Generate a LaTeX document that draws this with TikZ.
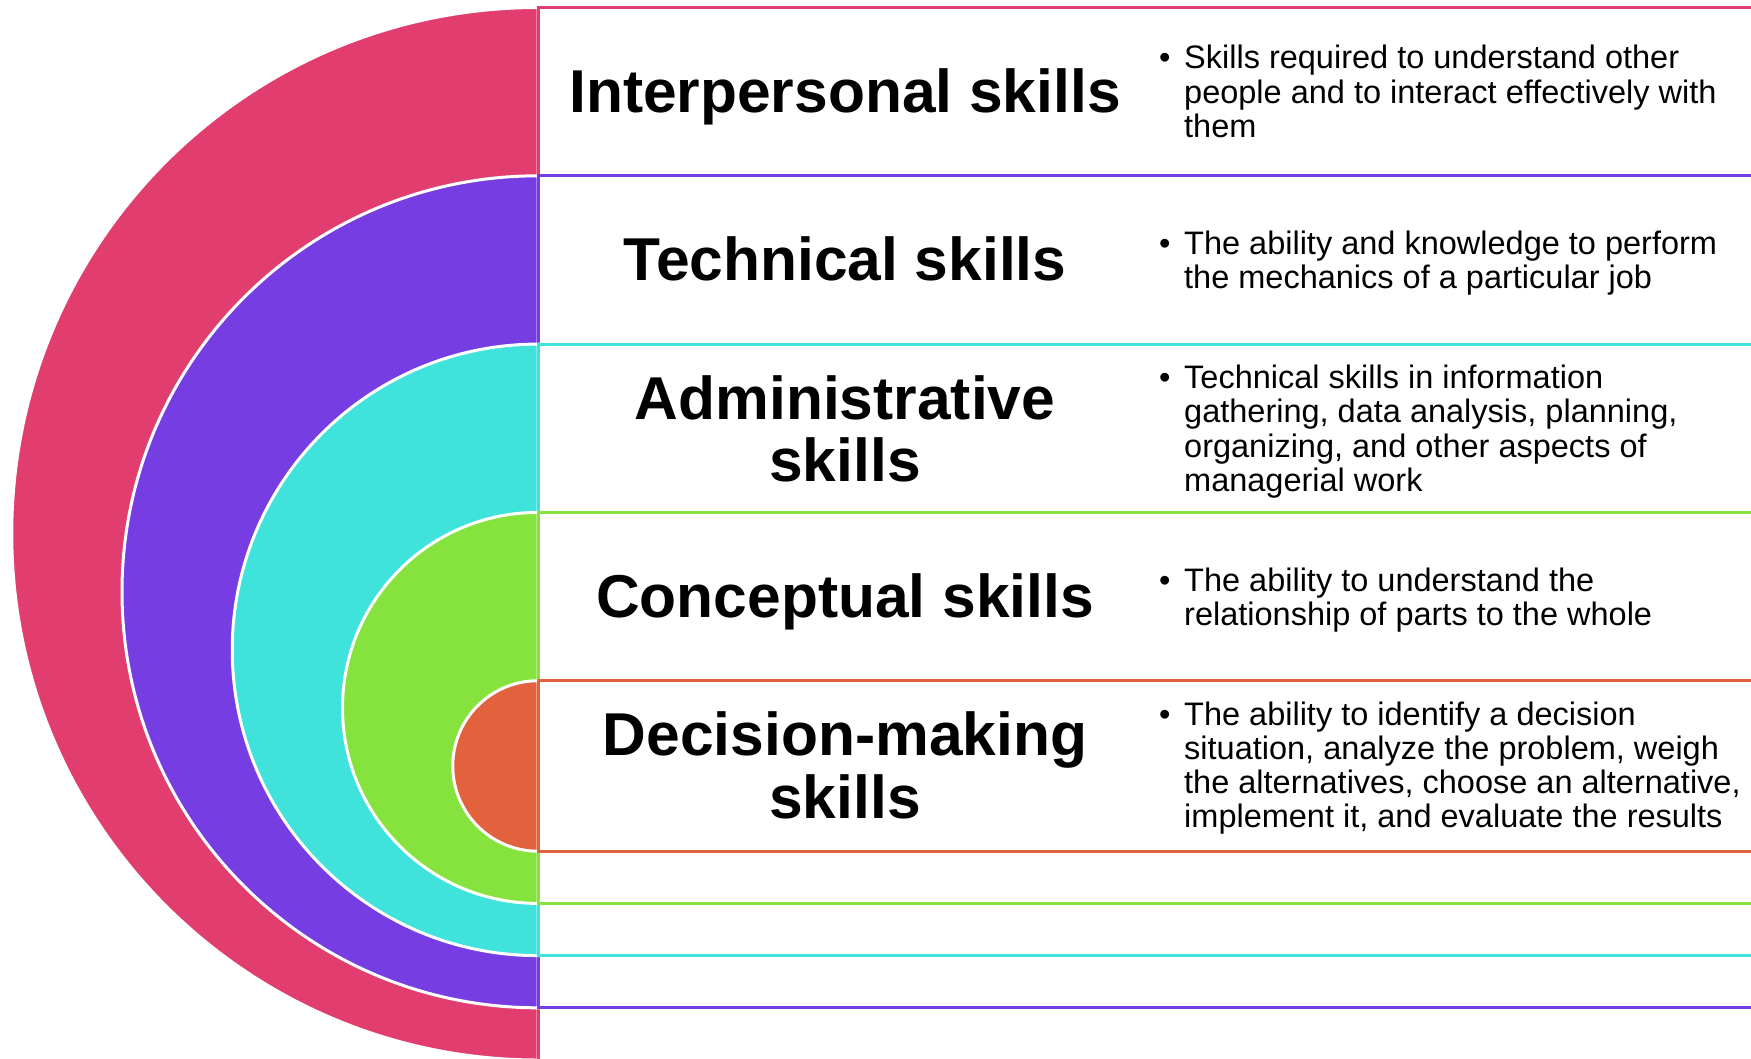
\documentclass[tikz,border=0pt]{standalone}
\usepackage{fontspec}
\setmainfont{Liberation Sans}
\definecolor{cpink}{HTML}{E23D6F}
\definecolor{cpurple}{HTML}{763DE2}
\definecolor{ccyan}{HTML}{40E2DC}
\definecolor{cgreen}{HTML}{86E23D}
\definecolor{corange}{HTML}{E2623D}
\begin{document}
\begin{tikzpicture}[x=1pt,y=1pt,
  semi/.style={fill=#1, draw=white, line width=3pt},
  band/.style={fill=white, draw=#1, line width=3pt},
  title/.style={anchor=base, inner sep=0pt, font=\fontsize{60.5}{62}\selectfont\bfseries},
  desc/.style={anchor=base west, inner sep=0pt, font=\fontsize{32.5}{34.3}\selectfont}]
\useasboundingbox (0,0) rectangle (1751,-1058);
\clip (0,0) rectangle (1751,-1058);
\renewcommand{\arraystretch}{1}
% level 0
\path[semi=cpink] (538,-7.5) arc[start angle=90,end angle=270,radius=526.25] -- cycle;
\path[band=cpink] (538,-7.5) rectangle (1780,-1060);
% level 1
\path[semi=cpurple] (538,-175.8) arc[start angle=90,end angle=270,radius=416] -- cycle;
\path[band=cpurple] (538,-175.8) rectangle (1780,-1007.8);
% level 2
\path[semi=ccyan] (538,-344.1) arc[start angle=90,end angle=270,radius=305.75] -- cycle;
\path[band=ccyan] (538,-344.1) rectangle (1780,-955.6);
% level 3
\path[semi=cgreen] (538,-512.4) arc[start angle=90,end angle=270,radius=195.5] -- cycle;
\path[band=cgreen] (538,-512.4) rectangle (1780,-903.4);
% level 4
\path[semi=corange] (538,-680.7) arc[start angle=90,end angle=270,radius=85.25] -- cycle;
\path[band=corange] (538,-680.7) rectangle (1780,-851.2);

% titles
\node[title] (t0) at (845,-112.5) {Interpersonal skills};
\node[title] (t1) at (845,-280.8) {Technical skills};
\node[title] (t2) at (845,-419.1) {\begin{tabular}[t]{@{}c@{}}Administrative\\skills\end{tabular}};
\node[title] (t3) at (845,-617.4) {Conceptual skills};
\node[title] (t4) at (845,-755.7) {\begin{tabular}[t]{@{}c@{}}Decision-making\\skills\end{tabular}};

% descriptions
\node[desc] (d0) at (1159,-68.9) {\begin{tabular}[t]{@{}p{25pt}@{}l@{}}•&Skills required to understand other\\&people and to interact effectively with\\&them\end{tabular}};
\node[desc] (d1) at (1159,-254.4) {\begin{tabular}[t]{@{}p{25pt}@{}l@{}}•&The ability and knowledge to perform\\&the mechanics of a particular job\end{tabular}};
\node[desc] (d2) at (1159,-388.4) {\begin{tabular}[t]{@{}p{25pt}@{}l@{}}•&Technical skills in information\\&gathering, data analysis, planning,\\&organizing, and other aspects of\\&managerial work\end{tabular}};
\node[desc] (d3) at (1159,-591) {\begin{tabular}[t]{@{}p{25pt}@{}l@{}}•&The ability to understand the\\&relationship of parts to the whole\end{tabular}};
\node[desc] (d4) at (1159,-725) {\begin{tabular}[t]{@{}p{25pt}@{}l@{}}•&The ability to identify a decision\\&situation, analyze the problem, weigh\\&the alternatives, choose an alternative,\\&implement it, and evaluate the results\end{tabular}};
\end{tikzpicture}
\end{document}
